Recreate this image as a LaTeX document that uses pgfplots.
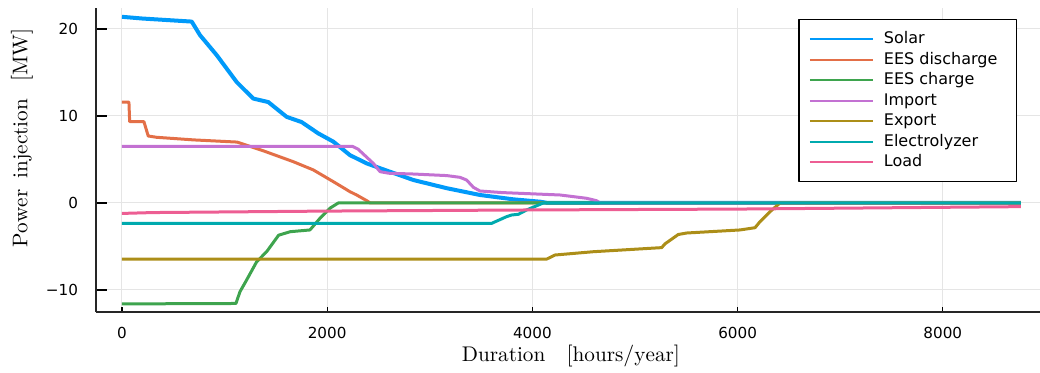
\documentclass[border=0pt]{standalone}
\usepackage{fontspec}
\newfontfamily\djv{DejaVu Sans}
\usepackage{pgfplots}
\pgfplotsset{compat=1.18}
\definecolor{cSolar}{HTML}{009AFA}
\definecolor{cDis}{HTML}{E36F47}
\definecolor{cCha}{HTML}{3EA44E}
\definecolor{cImp}{HTML}{C371D2}
\definecolor{cExp}{HTML}{AC8E18}
\definecolor{cEly}{HTML}{00AAAE}
\definecolor{cLoad}{HTML}{ED5E93}
\begin{document}
\begin{tikzpicture}
\path[use as bounding box] (0,0) rectangle (520pt,186pt);
\begin{axis}[
  at={(48pt,30pt)}, anchor=south west,
  scale only axis, width=472pt, height=152pt,
  xmin=-253, xmax=8947, ymin=-12.53, ymax=22.41,
  axis x line*=bottom, axis y line*=left,
  axis line style={-, black!85, line width=0.7pt},
  tick align=inside, major tick length=2.6pt,
  ytick style={/pgfplots/major tick length=5.5pt},
  tick style={black, line width=0.6pt},
  grid=major, grid style={black!10, line width=0.5pt},
  xtick={0,2000,4000,6000,8000},
  xticklabels={0,2000,4000,6000,8000},
  ytick={-10,0,10,20},
  yticklabels={−10,0,10,20},
  ticklabel style={font=\djv\fontsize{7.6}{9}\selectfont},
  yticklabel style={xshift=-5.5pt},
  xticklabel style={yshift=-4pt},
  xlabel={$\mathrm{Duration}\quad[\mathrm{hours/year}]$},
  ylabel={$\mathrm{Power}\hspace{5.5pt}\mathrm{injection}\hspace{8.5pt}[\mathrm{MW}]$},
  label style={font=\fontsize{10.6}{12}\selectfont},
  xlabel style={at={(axis description cs:0.5,0)}, anchor=base, yshift=-24.85pt, xshift=1.5pt},
  ylabel style={at={(axis description cs:0,0.5)}, anchor=center, rotate=0, yshift=37pt, xshift=11pt},
  legend cell align=left,
  legend image code/.code={\path (0pt,0pt) (35.5pt,0pt); \draw[#1, line width=1pt] (0pt,0pt) -- (31.5pt,0pt);},
  legend style={at={(0.9756,0.963)}, anchor=north east, draw=black, line width=0.6pt, fill=white,
    font=\djv\fontsize{8.0}{9.5}\selectfont, inner xsep=4.5pt, inner ysep=5.25pt, row sep=1.25pt,
    nodes={inner sep=0.5pt, text height=6.2pt, text depth=1.8pt}},
  line join=round,
]
\addplot[cSolar, line width=2pt] coordinates {(0,21.4)(200,21.2)(680,20.85)(760,19.3)(923,17.0)(1118,13.9)(1280,12.0)(1426,11.6)(1605,9.9)(1751,9.3)(1913,8.0)(2060,7.05)(2222,5.5)(2385,4.55)(2515,4.0)(2840,2.64)(3165,1.7)(3489,0.92)(3814,0.42)(4074,0.15)(4150,0)(8760,0)};
\addlegendentry{Solar}
\addplot[cDis, line width=1.5pt] coordinates {(0,11.6)(68,11.6)(75,9.35)(214,9.35)(256,7.7)(338,7.55)(700,7.25)(1123,7.0)(1377,6.0)(1669,4.75)(1865,3.8)(2060,2.45)(2222,1.3)(2287,0.92)(2385,0.27)(2420,0)(8760,0)};
\addlegendentry{EES discharge\kern4.5pt}
\addplot[cCha, line width=1.5pt] coordinates {(0,-11.6)(1111,-11.55)(1150,-10.2)(1215,-8.85)(1313,-6.75)(1410,-5.6)(1527,-3.7)(1640,-3.3)(1832,-3.1)(1930,-1.76)(2027,-0.6)(2108,0)(8760,0)};
\addlegendentry{EES charge}
\addplot[cImp, line width=1.5pt] coordinates {(0,6.5)(2248,6.5)(2300,6.2)(2450,4.55)(2515,3.6)(2600,3.42)(2840,3.33)(3165,3.15)(3294,2.95)(3359,2.64)(3425,1.8)(3489,1.38)(3700,1.2)(4269,0.92)(4529,0.54)(4626,0.26)(4660,0)(8760,0)};
\addlegendentry{Import}
\addplot[cExp, line width=1.5pt] coordinates {(0,-6.45)(4139,-6.45)(4220,-5.98)(4594,-5.6)(5260,-5.13)(5292,-4.7)(5422,-3.62)(5504,-3.45)(6023,-3.1)(6170,-2.84)(6218,-2.15)(6316,-1.0)(6413,0)(8760,0)};
\addlegendentry{Export}
\addplot[cEly, line width=1.5pt] coordinates {(0,-2.34)(3603,-2.34)(3749,-1.57)(3798,-1.38)(3863,-1.3)(3944,-0.8)(4106,0)(8760,0)};
\addlegendentry{Electrolyzer}
\addplot[cLoad, line width=1.5pt] coordinates {(0,-1.2)(300,-1.1)(2000,-0.93)(4000,-0.8)(6000,-0.7)(8760,-0.42)};
\addlegendentry{Load}
\end{axis}
\end{tikzpicture}
\end{document}
